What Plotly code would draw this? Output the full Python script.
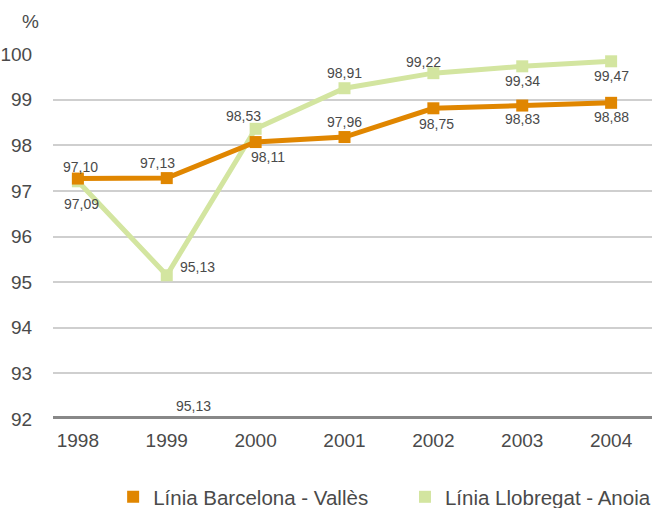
import plotly.graph_objects as go

years = ["1998", "1999", "2000", "2001", "2002", "2003", "2004"]
# plotted positions
bv_values = [97.27, 97.28, 98.07, 98.18, 98.81, 98.87, 98.93]
la_values = [97.21, 95.15, 98.36, 99.25, 99.58, 99.73, 99.84]
# printed labels
bv_labels = ["97,10", "97,13", "98,11", "97,96", "98,75", "98,83", "98,88"]
la_labels = ["97,09", "95,13", "98,53", "98,91", "99,22", "99,34", "99,47"]
series_names = ["Línia Barcelona - Vallès", "Línia Llobregat - Anoia"]
yticks = [92, 93, 94, 95, 96, 97, 98, 99, 100]
stray_label = "95,13"

ORANGE = "#E08600"
GREEN = "#D3E5A0"
TXT = "#4a4a4a"
FONT = "Liberation Sans"

fig = go.Figure()
fig.add_trace(go.Scatter(x=years, y=la_values, mode="lines+markers",
                         line=dict(color=GREEN, width=5),
                         marker=dict(symbol="square", size=12, color=GREEN),
                         showlegend=False, cliponaxis=False, hoverinfo="skip"))
fig.add_trace(go.Scatter(x=years, y=bv_values, mode="lines+markers",
                         line=dict(color=ORANGE, width=5),
                         marker=dict(symbol="square", size=12, color=ORANGE),
                         showlegend=False, cliponaxis=False, hoverinfo="skip"))
# legend entries
fig.add_trace(go.Scatter(x=[None], y=[None], mode="markers", name=series_names[0],
                         marker=dict(symbol="square", size=16, color=ORANGE), legend="legend"))
fig.add_trace(go.Scatter(x=[None], y=[None], mode="markers", name=series_names[1],
                         marker=dict(symbol="square", size=16, color=GREEN), legend="legend2"))

# label offsets (xshift, yshift) in px
bv_off = [(3, 12), (-9, 15), (12, -15), (0, 15), (3, -16), (0, -13), (0, -14)]
la_off = [(4, -23), (31, 8), (-12, 13), (0, 15), (-10, 11), (0, -15), (0, -15)]

ann = []
for i in range(len(years)):
    ann.append(dict(x=i, y=bv_values[i], text=bv_labels[i], showarrow=False,
                    xshift=bv_off[i][0], yshift=bv_off[i][1],
                    font=dict(family=FONT, size=14, color=TXT)))
    ann.append(dict(x=i, y=la_values[i], text=la_labels[i], showarrow=False,
                    xshift=la_off[i][0], yshift=la_off[i][1],
                    font=dict(family=FONT, size=14, color=TXT)))
ann.append(dict(x=1, y=yticks[0], text=stray_label, showarrow=False,
                xshift=27, yshift=13, font=dict(family=FONT, size=14, color=TXT)))
ann.append(dict(xref="paper", yref="paper", x=-0.037, y=1.0, yshift=33, text="%",
                xanchor="center", yanchor="middle", showarrow=False,
                font=dict(family=FONT, size=19, color=TXT)))

leg_common = dict(orientation="h", yref="container", yanchor="middle", y=0.0217,
                  xanchor="left", font=dict(family=FONT, size=20.5, color=TXT),
                  itemsizing="constant", bgcolor="rgba(0,0,0,0)")

fig.update_layout(
    width=652, height=508,
    margin=dict(l=53, r=0, t=54, b=89, autoexpand=False),
    paper_bgcolor="white", plot_bgcolor="white",
    font=dict(family=FONT, color=TXT),
    hovermode=False,
    xaxis=dict(type="category", range=[-0.28, 6.46], showgrid=False, zeroline=False,
               showline=False, ticks="outside", ticklen=4, tickcolor="rgba(0,0,0,0)",
               automargin=False, tickfont=dict(family=FONT, size=19, color=TXT)),
    yaxis=dict(range=[92, 100], tickvals=yticks, showgrid=True, gridcolor="#cfcfcf",
               gridwidth=2, zeroline=False, showline=False, ticks="outside", ticklen=16,
               automargin=False, tickcolor="rgba(0,0,0,0)",
               tickfont=dict(family=FONT, size=19, color=TXT)),
    shapes=[dict(type="line", xref="paper", yref="y", x0=0, x1=1, y0=yticks[0], y1=yticks[0],
                 line=dict(color="#888888", width=6))],
    annotations=ann,
    legend=dict(x=0.1004, **leg_common),
    legend2=dict(x=0.5876, **leg_common),
)
fig.write_html("out.html", config={"displayModeBar": False},
               post_script="document.body.style.margin='0';document.body.style.overflow='hidden';")
